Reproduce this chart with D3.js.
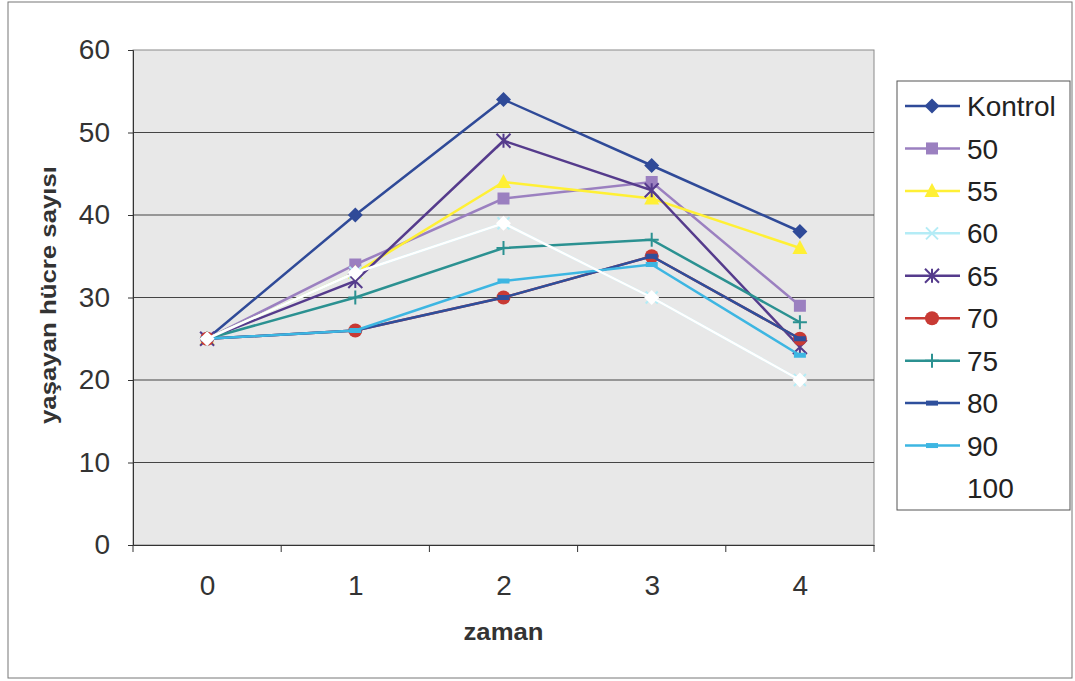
<!DOCTYPE html>
<html>
<head>
<meta charset="utf-8">
<script src="https://cdn.jsdelivr.net/npm/d3@7"></script>
<style>
  body { margin: 0; background: #fff; }
  svg { display: block; font-family: "Liberation Sans", Arial, sans-serif; }
</style>
</head>
<body>
<div id="chart"></div>
<script>
const categories = ['0', '1', '2', '3', '4'];
const seriesNames = ['Kontrol', '50', '55', '60', '65', '70', '75', '80', '90', '100'];
const kontrol = [25, 40, 54, 46, 38];
const s50 = [25, 34, 42, 44, 29];
const s55 = [25, 33, 44, 42, 36];
const s60 = [25, 33, 39, 30, 20];
const s65 = [25, 32, 49, 43, 24];
const s70 = [25, 26, 30, 35, 25];
const s75 = [25, 30, 36, 37, 27];
const s80 = [25, 26, 30, 35, 25];
const s90 = [25, 26, 32, 34, 23];
const s100 = [25, 33, 39, 30, 20];
const yTicks = [0, 10, 20, 30, 40, 50, 60];

const colors = ['#2f4a98', '#9b80c0', '#fff035', '#b4ecf6', '#553b8c', '#c83a34', '#2b9191', '#2e4f9c', '#3db6e2', '#ffffff'];
const markers = ['diamond', 'square', 'triangle', 'x', 'star', 'circle', 'plus', 'dash', 'dash', 'diamond'];
const allValues = [kontrol, s50, s55, s60, s65, s70, s75, s80, s90, s100];

const width = 1075;
const height = 681;
const plot = { left: 133, right: 874, top: 50, bottom: 545 };
const font = '"Liberation Sans", Arial, sans-serif';

const series = seriesNames.map((name, i) => ({
  name: name,
  values: allValues[i],
  color: colors[i],
  marker: markers[i]
}));

const svg = d3.select('#chart')
  .append('svg')
  .attr('width', width)
  .attr('height', height);

// outer frame
svg.append('rect')
  .attr('x', 8).attr('y', 2)
  .attr('width', 1064).attr('height', 676)
  .attr('fill', '#fff')
  .attr('stroke', '#777')
  .attr('stroke-width', 1);

const xBand = d3.scaleBand()
  .domain(categories)
  .range([plot.left, plot.right]);

const x = d3.scalePoint()
  .domain(categories)
  .range([plot.left, plot.right])
  .padding(0.5);

const y = d3.scaleLinear()
  .domain([0, 60])
  .range([plot.bottom, plot.top]);

// plot area
svg.append('rect')
  .attr('x', plot.left).attr('y', plot.top)
  .attr('width', plot.right - plot.left).attr('height', plot.bottom - plot.top)
  .attr('fill', '#e8e8e8')
  .attr('stroke', '#8a8a8a');

// gridlines
svg.append('g')
  .selectAll('line')
  .data(yTicks.filter(d => d > 0 && d < 60))
  .enter()
  .append('line')
  .attr('x1', plot.left).attr('x2', plot.right)
  .attr('y1', d => y(d)).attr('y2', d => y(d))
  .attr('stroke', '#444')
  .attr('stroke-width', 1);

// y axis
const yAxis = svg.append('g')
  .attr('transform', `translate(${plot.left},0)`)
  .call(d3.axisLeft(y).tickValues(yTicks).tickSize(5).tickPadding(18).tickFormat(d3.format('d')));
yAxis.select('.domain').attr('stroke', '#333');
yAxis.selectAll('.tick line').attr('stroke', '#333');
yAxis.selectAll('text')
  .attr('fill', '#333')
  .style('font-size', '28px')
  .style('font-family', font);

// x axis
const xAxis = svg.append('g')
  .attr('transform', `translate(0,${plot.bottom})`)
  .call(d3.axisBottom(x).tickSize(0).tickPadding(30));
xAxis.select('.domain').attr('stroke', '#333');
xAxis.selectAll('text')
  .attr('fill', '#333')
  .style('font-size', '28px')
  .style('font-family', font);

const boundaries = categories.map(c => xBand(c)).concat([xBand(categories[categories.length - 1]) + xBand.bandwidth()]);
svg.append('g')
  .selectAll('line')
  .data(boundaries)
  .enter()
  .append('line')
  .attr('x1', d => d).attr('x2', d => d)
  .attr('y1', plot.bottom).attr('y2', plot.bottom + 7)
  .attr('stroke', '#333');

// axis titles
svg.append('text')
  .attr('x', (plot.left + plot.right) / 2)
  .attr('y', 640)
  .attr('text-anchor', 'middle')
  .attr('textLength', 80)
  .attr('lengthAdjust', 'spacingAndGlyphs')
  .attr('fill', '#333')
  .style('font-size', '23px')
  .style('font-weight', 'bold')
  .text('zaman');

svg.append('text')
  .attr('transform', `translate(56,295) rotate(-90)`)
  .attr('text-anchor', 'middle')
  .attr('textLength', 258)
  .attr('lengthAdjust', 'spacingAndGlyphs')
  .attr('fill', '#333')
  .style('font-size', '22px')
  .style('font-weight', 'bold')
  .text('yaşayan hücre sayısı');

function drawMarker(g, type, color, cx, cy) {
  if (type === 'diamond') {
    const r = 7.5;
    g.append('path')
      .attr('d', `M${cx},${cy - r}L${cx + r},${cy}L${cx},${cy + r}L${cx - r},${cy}Z`)
      .attr('fill', color);
  } else if (type === 'square') {
    g.append('rect')
      .attr('x', cx - 6).attr('y', cy - 6)
      .attr('width', 12).attr('height', 12)
      .attr('fill', color);
  } else if (type === 'triangle') {
    g.append('path')
      .attr('d', `M${cx},${cy - 8}L${cx + 7.5},${cy + 6}L${cx - 7.5},${cy + 6}Z`)
      .attr('fill', color);
  } else if (type === 'circle') {
    g.append('circle')
      .attr('cx', cx).attr('cy', cy).attr('r', 7)
      .attr('fill', color);
  } else if (type === 'x') {
    const r = 6;
    g.append('path')
      .attr('d', `M${cx - r},${cy - r}L${cx + r},${cy + r}M${cx - r},${cy + r}L${cx + r},${cy - r}`)
      .attr('stroke', color).attr('stroke-width', 2).attr('fill', 'none');
  } else if (type === 'star') {
    const r = 7;
    g.append('path')
      .attr('d', `M${cx - r},${cy - r}L${cx + r},${cy + r}M${cx - r},${cy + r}L${cx + r},${cy - r}M${cx},${cy - r}L${cx},${cy + r}`)
      .attr('stroke', color).attr('stroke-width', 2).attr('fill', 'none');
  } else if (type === 'plus') {
    const r = 7;
    g.append('path')
      .attr('d', `M${cx - r},${cy}L${cx + r},${cy}M${cx},${cy - r}L${cx},${cy + r}`)
      .attr('stroke', color).attr('stroke-width', 2).attr('fill', 'none');
  } else if (type === 'dash') {
    g.append('rect')
      .attr('x', cx - 6).attr('y', cy - 2.5)
      .attr('width', 12).attr('height', 5)
      .attr('fill', color);
  }
}

const line = d3.line()
  .x((d, i) => x(categories[i]))
  .y(d => y(d));

// series lines and markers
series.forEach(s => {
  const g = svg.append('g');
  g.append('path')
    .datum(s.values)
    .attr('d', line)
    .attr('fill', 'none')
    .attr('stroke', s.color)
    .attr('stroke-width', 2.5);
  s.values.forEach((v, i) => drawMarker(g, s.marker, s.color, x(categories[i]), y(v)));
});

// legend
const legend = svg.append('g');
legend.append('rect')
  .attr('x', 897).attr('y', 81)
  .attr('width', 173).attr('height', 429)
  .attr('fill', '#fff')
  .attr('stroke', '#555');

const ly = d3.scalePoint()
  .domain(seriesNames)
  .range([106, 488]);

series.forEach(s => {
  const cy = ly(s.name);
  legend.append('line')
    .attr('x1', 905).attr('x2', 960)
    .attr('y1', cy).attr('y2', cy)
    .attr('stroke', s.color)
    .attr('stroke-width', 2.5);
  drawMarker(legend, s.marker, s.color, 932, cy);
  legend.append('text')
    .attr('x', 967).attr('y', cy)
    .attr('dy', '0.36em')
    .attr('fill', '#222')
    .style('font-size', '28px')
    .text(s.name);
});
</script>
</body>
</html>
